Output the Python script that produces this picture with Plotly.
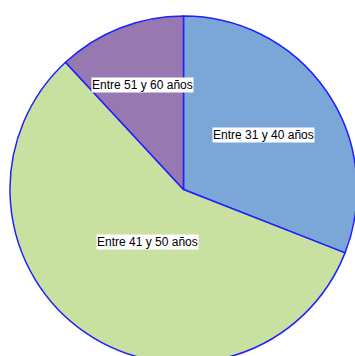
import math
import plotly.graph_objects as go

# Respondents by age group
labels = ["Entre 31 y 40 años", "Entre 41 y 50 años", "Entre 51 y 60 años"]
counts = [13, 24, 5]
colors = ["#7ba6d8", "#c8e0a0", "#9778b0"]
# how far out from the centre each label sits (fraction of the radius)
label_radius = [0.56, 0.366, 0.648]

W, H = 357, 363
ML, MT = 10, 16

fig = go.Figure(
    go.Pie(
        labels=labels,
        values=counts,
        sort=False,
        direction="clockwise",
        rotation=0,
        marker=dict(colors=colors, line=dict(color="#2020ff", width=1.5)),
        textinfo="none",
        hoverinfo="label+value+percent",
        showlegend=False,
    )
)

# place each label on its slice's bisector
total = sum(counts)
start = 0.0
annotations = []
for lab, val, f in zip(labels, counts, label_radius):
    mid = (start + val / 2) / total * 2 * math.pi
    start += val
    annotations.append(
        dict(
            x=0.5 + 0.5 * f * math.sin(mid),
            y=0.5 + 0.5 * f * math.cos(mid),
            xref="paper",
            yref="paper",
            xanchor="center",
            yanchor="middle",
            text=lab,
            showarrow=False,
            bgcolor="white",
            borderpad=0,
            font=dict(family="Liberation Sans, Arial, sans-serif", size=12, color="black"),
        )
    )

fig.update_layout(
    width=W,
    height=H,
    margin=dict(l=ML, r=0, t=MT, b=0, pad=0),
    paper_bgcolor="white",
    plot_bgcolor="white",
    annotations=annotations,
)

fig.write_html(
    "out.html",
    post_script="document.documentElement.style.overflow='hidden';document.body.style.overflow='hidden';document.body.style.margin='0';",
)
